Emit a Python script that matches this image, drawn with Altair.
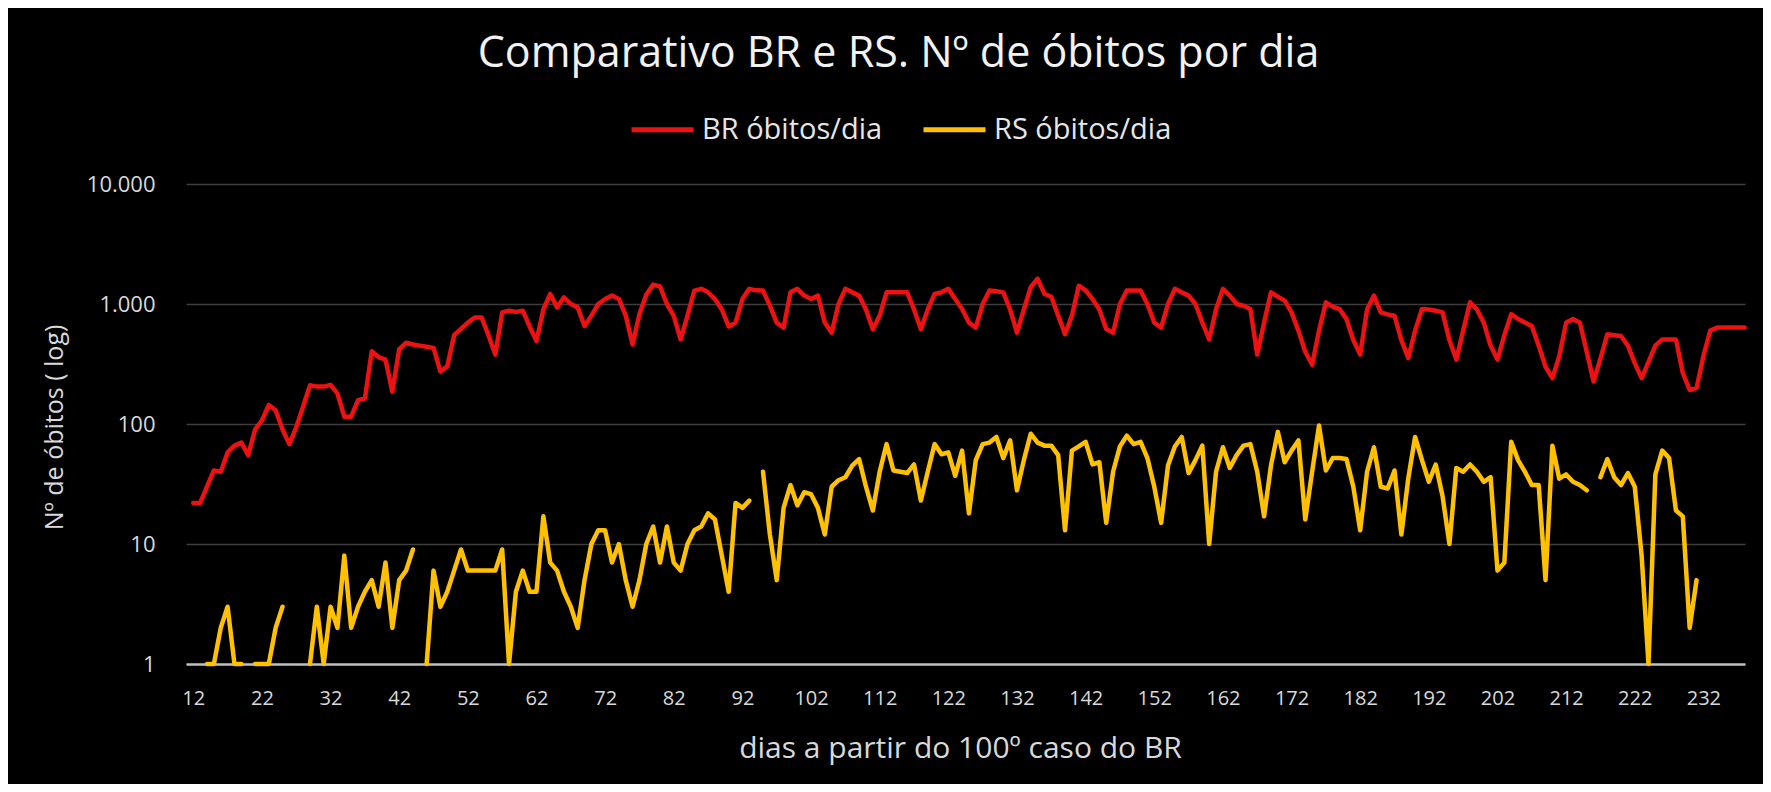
import altair as alt
import pandas as pd

FIRST_DAY = 12

br_obitos = [
    22, 22, 30, 41, 40, 58, 66, 70, 55, 90,           # 12-21
    107, 144, 130, 90, 68, 94, 140, 210, 205, 205,    # 22-31
    212, 180, 115, 115, 158, 163, 404, 360, 344, 186, # 32-41
    420, 475, 460, 450, 440, 431, 274, 302, 550, 620, # 42-51
    700, 772, 772, 550, 379, 850, 880, 860, 879, 650, # 52-61
    491, 900, 1213, 937, 1137, 1000, 937, 656, 800, 1000,  # 62-71
    1100, 1175, 1102, 800, 460, 824, 1200, 1450, 1400, 1000,  # 72-81
    798, 507, 800, 1294, 1337, 1250, 1100, 900, 650, 700,  # 82-91
    1100, 1337, 1300, 1294, 968, 700, 636, 1250, 1337, 1175,  # 92-101
    1102, 1175, 700, 577, 1000, 1337, 1250, 1175, 900, 615,  # 102-111
    800, 1250, 1250, 1250, 1250, 900, 615, 900, 1213, 1250,  # 112-121
    1337, 1102, 908, 700, 636, 1000, 1294, 1280, 1250, 900,  # 122-131
    577, 900, 1380, 1624, 1213, 1150, 800, 560, 800, 1420,  # 132-141
    1300, 1102, 900, 620, 577, 1000, 1294, 1294, 1294, 1000,  # 142-151
    700, 636, 1000, 1337, 1250, 1175, 1000, 700, 508, 900,  # 152-161
    1337, 1175, 1000, 968, 908, 379, 700, 1250, 1150, 1067,  # 162-171
    851, 600, 400, 312, 600, 1033, 950, 908, 748, 500,  # 172-181
    379, 900, 1175, 851, 820, 798, 500, 355, 600, 908,  # 182-191
    900, 880, 851, 500, 344, 600, 1033, 900, 700, 450,  # 192-201
    344, 550, 824, 750, 700, 656, 450, 300, 241, 367,  # 202-211
    700, 748, 701, 400, 226, 350, 559, 550, 541, 450,  # 212-221
    322, 241, 330, 450, 507, 507, 507, 266, 192, 200,  # 222-231
    367, 600, 636, 636, 636, 636, 636,                 # 232-238
]

rs_obitos = [
    None, None, 1, 1, 2, 3, 1, 1, None, 1,            # 12-21
    1, 1, 2, 3, None, None, None, 1, 3, 1,            # 22-31
    3, 2, 8, 2, 3, 4, 5, 3, 7, 2,                     # 32-41
    5, 6, 9, None, 1, 6, 3, 4, 6, 9,                  # 42-51
    6, 6, 6, 6, 6, 9, 1, 4, 6, 4,                     # 52-61
    4, 17, 7, 6, 4, 3, 2, 5, 10, 13,                  # 62-71
    13, 7, 10, 5, 3, 5, 10, 14, 7, 14,                # 72-81
    7, 6, 10, 13, 14, 18, 16, 8, 4, 22,               # 82-91
    20, 23, None, 40, 12, 5, 20, 31, 21, 27,          # 92-101
    26, 20, 12, 30, 34, 36, 45, 51, 30, 19,           # 102-111
    40, 68, 41, 40, 39, 46, 23, 40, 68, 56,           # 112-121
    58, 37, 60, 18, 50, 68, 70, 78, 52, 73,           # 122-131
    28, 50, 83, 70, 66, 66, 55, 13, 60, 65,           # 132-141
    71, 46, 48, 15, 40, 65, 80, 68, 71, 52,           # 142-151
    30, 15, 45, 65, 78, 39, 50, 66, 10, 40,           # 152-161
    64, 43, 55, 66, 68, 40, 17, 45, 86, 48,           # 162-171
    60, 73, 16, 40, 97, 41, 52, 52, 51, 30,           # 172-181
    13, 40, 64, 30, 29, 41, 12, 35, 78, 50,           # 182-191
    33, 46, 25, 10, 43, 40, 46, 40, 33, 36,           # 192-201
    6, 7, 71, 50, 40, 31, 31, 5, 66, 35,              # 202-211
    38, 33, 31, 28, None, 36, 51, 36, 31, 39,         # 212-221
    30, 8, 1, 38, 60, 52, 19, 17, 2, 5,               # 222-231
    None, None, None, None, None, None, None,         # 232-238
]

series_names = ["BR óbitos/dia", "RS óbitos/dia"]
series_colors = ["#ee1111", "#ffc000"]
x_tick_values = list(range(12, 233, 10))
y_tick_values = [1, 10, 100, 1000, 10000]

rows = []
for i, v in enumerate(br_obitos):
    rows.append({"dia": FIRST_DAY + i, "obitos": v, "serie": series_names[0], "seg": "br"})
seg = 0
for i, v in enumerate(rs_obitos):
    if v is None:
        seg += 1
        continue
    rows.append({"dia": FIRST_DAY + i, "obitos": v, "serie": series_names[1], "seg": f"rs{seg}"})
df = pd.DataFrame(rows)

FONT = "Open Sans"
label_color = "#d9d9d9"

chart = (
    alt.Chart(df)
    .mark_line(strokeWidth=4.5, strokeJoin="round", strokeCap="round")
    .encode(
        x=alt.X(
            "dia:Q",
            scale=alt.Scale(domain=[10.94, 238.06], nice=False, zero=False),
            axis=alt.Axis(
                values=x_tick_values,
                grid=False,
                ticks=False,
                domainColor="#bfbfbf",
                domainWidth=2.5,
                labelColor=label_color,
                labelFontSize=20,
                labelFont=FONT,
                labelPadding=24,
                labelFlush=False,
                title="dias a partir do 100º caso do BR",
                titleFont=FONT,
                titleFontSize=30,
                titleFontWeight="normal",
                titleColor=label_color,
                titleX=774,
                titleY=84,
                titleBaseline="middle",
                titleAlign="center",
            ),
        ),
        y=alt.Y(
            "obitos:Q",
            scale=alt.Scale(type="log", domain=[1, 10000], nice=False),
            axis=alt.Axis(
                values=y_tick_values,
                labelExpr="replace(format(datum.value, ','), ',', '.')",
                grid=True,
                gridColor="#3d3d3d",
                gridWidth=1.5,
                domain=False,
                ticks=False,
                labelColor=label_color,
                labelFontSize=22,
                labelFont=FONT,
                labelPadding=31,
                title="Nº de óbitos ( log)",
                titleFont=FONT,
                titleFontSize=25,
                titleFontWeight="normal",
                titleColor=label_color,
                titleX=-132,
                titleY=243,
                titleAngle=-90,
                titleBaseline="middle",
                titleAlign="center",
            ),
        ),
        color=alt.Color(
            "serie:N",
            scale=alt.Scale(domain=series_names, range=series_colors),
            legend=alt.Legend(
                orient="none",
                legendX=443,
                legendY=-88,
                direction="horizontal",
                title=None,
                symbolType="stroke",
                symbolSize=3844,
                symbolStrokeWidth=5,
                labelFont=FONT,
                labelFontSize=29,
                labelLimit=500,
                labelColor="#e6e6e6",
                labelOffset=6,
                columnPadding=30,
            ),
        ),
        detail="seg:N",
    )
    .properties(
        width=1559,
        height=480,
        background="black",
        padding={"left": 178, "top": 176, "right": 18, "bottom": 120},
        autosize=alt.AutoSizeParams(type="none"),
        title=alt.TitleParams(
            "Comparativo BR e RS. Nº de óbitos por dia",
            font=FONT,
            fontSize=43,
            fontWeight="normal",
            color="#f2f2f2",
            anchor="middle",
            dx=-67,
            offset=20,
        ),
    )
    .configure_view(stroke=None)
)

chart.save("out.html", embed_options={"renderer": "svg", "actions": False})
